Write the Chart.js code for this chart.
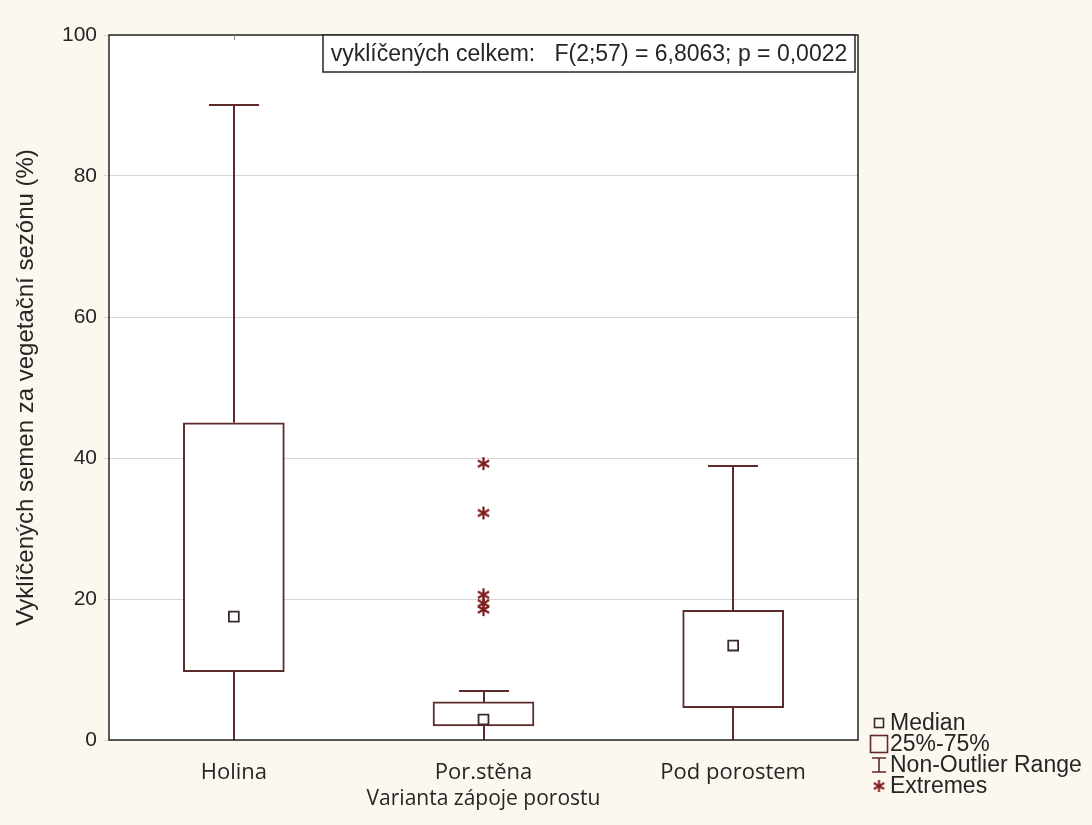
<!DOCTYPE html>
<html><head><meta charset="utf-8">
<script src="https://cdn.jsdelivr.net/npm/chart.js@4.4.1/dist/chart.umd.min.js"></script>
<style>
html,body{margin:0;padding:0;background:#fcf8ef;}
#wrap{width:1092px;height:825px;position:relative;}
</style></head><body>
<div id="wrap"><canvas id="c" width="1092" height="825"></canvas></div>
<script>
// ---- data ----
const categories = ['Holina', 'Por.stěna', 'Pod porostem'];
const whiskerLow = [0, 0, 0];
const q1 = [9.7, 2.0, 4.6];
const median = [17.5, 2.9, 13.4];
const q3 = [45, 5.4, 18.4];
const whiskerHigh = [90, 7.0, 38.9];
const extremesCategory = ['Por.stěna', 'Por.stěna', 'Por.stěna', 'Por.stěna', 'Por.stěna'];
const extremesValue = [39.2, 32.2, 20.6, 19.4, 18.5];
const yTicks = [0, 20, 40, 60, 80, 100];
const annotationText = 'vyklíčených celkem:   F(2;57) = 6,8063; p = 0,0022';
const legendLabels = ['Median', '25%-75%', 'Non-Outlier Range', 'Extremes'];
const yTitle = 'Vyklíčených semen za vegetační sezónu (%)';
const xTitle = 'Varianta zápoje porostu';

// ---- styles ----
const BOX_COLOR = '#5e2a2a';
const MED_COLOR = '#3c2a2a';
const EXT_COLOR = '#7e1c1c';
const AXIS_COLOR = '#262626';
const TEXT_COLOR = '#262626';

function makeAsterisk(size, color, lw) {
  const cv = document.createElement('canvas');
  cv.width = size; cv.height = size;
  const g = cv.getContext('2d');
  g.strokeStyle = color; g.lineWidth = lw; g.lineCap = 'butt';
  const c = size / 2, r = size / 2 - 1;
  [90, 30, 150].forEach(a => {
    const rad = a * Math.PI / 180;
    g.beginPath();
    g.moveTo(c - r * Math.cos(rad), c - r * Math.sin(rad));
    g.lineTo(c + r * Math.cos(rad), c + r * Math.sin(rad));
    g.stroke();
  });
  return cv;
}
const asterisk = makeAsterisk(15, EXT_COLOR, 2.2);

const boxPlugin = {
  id: 'boxextras',
  beforeDraw(chart) {
    const {ctx, chartArea: a} = chart;
    ctx.save();
    ctx.fillStyle = '#ffffff';
    ctx.fillRect(a.left, a.top, a.right - a.left, a.bottom - a.top);
    ctx.restore();
  },
  beforeDatasetsDraw(chart) {
    const {ctx, scales: {x, y}} = chart;
    ctx.save();
    ctx.strokeStyle = BOX_COLOR;
    ctx.lineWidth = 2;
    categories.forEach((c, i) => {
      const px = Math.round(x.getPixelForValue(i));
      const capHalf = 25;
      ctx.beginPath();
      ctx.moveTo(px, y.getPixelForValue(whiskerLow[i]));
      ctx.lineTo(px, y.getPixelForValue(q1[i]));
      ctx.moveTo(px, y.getPixelForValue(q3[i]));
      ctx.lineTo(px, y.getPixelForValue(whiskerHigh[i]));
      const yh = Math.round(y.getPixelForValue(whiskerHigh[i]));
      ctx.moveTo(px - capHalf, yh);
      ctx.lineTo(px + capHalf, yh);
      ctx.stroke();
    });
    ctx.restore();
  },
  afterDraw(chart) {
    const {ctx, chartArea: a, scales: {x}} = chart;
    ctx.save();
    // plot frame
    ctx.strokeStyle = AXIS_COLOR;
    ctx.lineWidth = 1.5;
    ctx.strokeRect(a.left, a.top, a.right - a.left, a.bottom - a.top);
    // small category ticks on top edge
    ctx.lineWidth = 1;
    ctx.strokeStyle = '#888';
    ctx.beginPath();
    categories.forEach((c, i) => {
      const px = Math.round(x.getPixelForValue(i)) + 0.5;
      ctx.moveTo(px, a.top); ctx.lineTo(px, a.top + 5);
    });
    ctx.stroke();
    // annotation box
    ctx.strokeStyle = AXIS_COLOR;
    ctx.lineWidth = 1.5;
    const bx0 = 323, by0 = a.top, bx1 = a.right - 3, by1 = 72;
    ctx.fillStyle = '#ffffff';
    ctx.fillRect(bx0, by0, bx1 - bx0, by1 - by0);
    ctx.strokeRect(bx0, by0, bx1 - bx0, by1 - by0);
    ctx.fillStyle = TEXT_COLOR;
    ctx.font = '23px "Liberation Sans", Arial, sans-serif';
    ctx.textBaseline = 'middle';
    ctx.textAlign = 'center';
    ctx.fillText(annotationText, (bx0 + bx1) / 2, (by0 + by1) / 2 + 1);
    // legend
    const lx = a.right + 21, tx = a.right + 32;
    const rows = [723, 744, 765, 786];
    ctx.font = '23px "Liberation Sans", Arial, sans-serif';
    ctx.textAlign = 'left';
    ctx.strokeStyle = MED_COLOR;
    ctx.lineWidth = 1.6;
    ctx.strokeRect(lx - 4.5, rows[0] - 4.5, 9, 9);
    ctx.strokeStyle = BOX_COLOR;
    ctx.strokeRect(lx - 8.5, rows[1] - 8.5, 17, 17);
    ctx.beginPath();
    ctx.moveTo(lx - 7, rows[2] - 7); ctx.lineTo(lx + 7, rows[2] - 7);
    ctx.moveTo(lx, rows[2] - 7); ctx.lineTo(lx, rows[2] + 7);
    ctx.moveTo(lx - 7, rows[2] + 7); ctx.lineTo(lx + 7, rows[2] + 7);
    ctx.stroke();
    ctx.drawImage(asterisk, lx - 7, rows[3] - 7, 14, 14);
    ctx.fillStyle = TEXT_COLOR;
    legendLabels.forEach((t, i) => ctx.fillText(t, tx, rows[i] + 1));
    ctx.restore();
  }
};

new Chart(document.getElementById('c'), {
  type: 'bar',
  data: {
    labels: categories,
    datasets: [
      {
        type: 'line',
        label: 'Median',
        data: median,
        showLine: false,
        pointStyle: 'rect',
        pointRadius: 7,
        pointHoverRadius: 7,
        pointBackgroundColor: '#ffffff',
        pointBorderColor: MED_COLOR,
        pointBorderWidth: 1.8,
        order: 0
      },
      {
        type: 'line',
        label: 'Extremes',
        data: extremesCategory.map((c, i) => ({x: c, y: extremesValue[i]})),
        showLine: false,
        pointStyle: asterisk,
        pointRadius: 8,
        order: 1
      },
      {
        type: 'bar',
        label: '25%-75%',
        data: categories.map((c, i) => [q1[i], q3[i]]),
        backgroundColor: '#ffffff',
        borderColor: BOX_COLOR,
        borderWidth: 2,
        borderSkipped: false,
        barThickness: 101,
        grouped: false,
        order: 2
      }
    ]
  },
  options: {
    responsive: false,
    animation: false,
    devicePixelRatio: 1,
    layout: {padding: {top: 35, right: 234, left: 0, bottom: 0}},
    plugins: {legend: {display: false}, tooltip: {enabled: false}},
    scales: {
      x: {
        type: 'category',
        offset: true,
        grid: {display: false},
        border: {display: false},
        ticks: {
          color: TEXT_COLOR,
          font: {family: '"Open Sans", "Noto Sans", sans-serif', size: 22},
          padding: 12
        },
        title: {
          display: true,
          text: xTitle,
          color: TEXT_COLOR,
          font: {family: '"Open Sans", "Noto Sans", sans-serif', size: 21},
          padding: {top: 0, bottom: 13}
        },
        afterFit(s) { s.height = 85; }
      },
      y: {
        min: 0,
        max: 100,
        afterBuildTicks(s) { s.ticks = yTicks.map(v => ({value: v})); },
        grid: {color: '#d6d6d6', lineWidth: 1, tickLength: 5, drawTicks: true},
        border: {display: false},
        ticks: {
          color: TEXT_COLOR,
          font: {family: '"Liberation Sans", Arial, sans-serif', size: 21},
          padding: 7
        },
        title: {
          display: true,
          text: yTitle,
          color: TEXT_COLOR,
          font: {family: '"Liberation Sans", Arial, sans-serif', size: 24},
          padding: {top: 12, bottom: 0}
        },
        afterFit(s) { s.width = 109; }
      }
    }
  },
  plugins: [boxPlugin]
});
</script>
</body></html>
